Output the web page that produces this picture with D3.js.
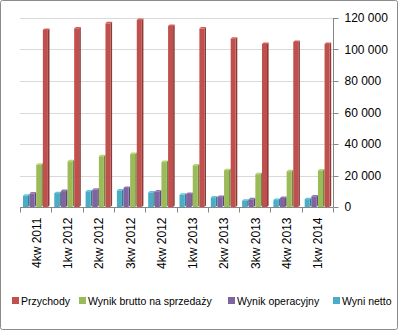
<!DOCTYPE html>
<html><head><meta charset="utf-8">
<script src="https://cdn.jsdelivr.net/npm/d3@7"></script>
<style>body{margin:0;background:#fff}svg{display:block}</style>
</head><body>
<script>
const categories = ["4kw 2011","1kw 2012","2kw 2012","3kw 2012","4kw 2012","1kw 2013","2kw 2013","3kw 2013","4kw 2013","1kw 2014"];
const przychody = [112400,113400,116600,118700,114900,113300,106900,103500,104800,103500];
const wynikBrutto = [26800,29000,32200,33600,28500,26400,23400,20800,22700,23200];
const wynikOperacyjny = [8600,10100,10900,12100,9900,8300,6300,4900,5700,6700];
const wyniNetto = [7100,8800,9900,10500,9200,7700,6100,4000,4400,5000];
const yTicks = [0,20000,40000,60000,80000,100000,120000];
const seriesNames = ["Przychody","Wynik brutto na sprzedaży","Wynik operacyjny","Wyni netto"];
const seriesColors = ["#C0504D","#9BBB59","#8064A2","#4BACC6"];
const seriesValues = [przychody, wynikBrutto, wynikOperacyjny, wyniNetto];

(function(){
const W=398,H=330;
const svg=d3.select("body").append("svg").attr("width",W).attr("height",H);
svg.append("rect").attr("x",0.5).attr("y",0.5).attr("width",W-1).attr("height",H-1)
  .attr("fill","#fff").attr("stroke","#8c8c8c").attr("rx",2);

const pLeft=20,pRight=333,pTop=18,pBottom=207;
const x=d3.scaleBand().domain(categories).range([pLeft,pRight]);
const y=d3.scaleLinear().domain([0,120000]).range([pBottom,pTop]);
const order=[3,2,1,0];
const x1=d3.scaleBand().domain(order).range([3,29.5]);

svg.append("g").selectAll("line").data(yTicks.filter(d=>d>0)).join("line")
  .attr("x1",pLeft).attr("x2",pRight).attr("y1",d=>Math.round(y(d))+0.5).attr("y2",d=>Math.round(y(d))+0.5)
  .attr("stroke","#d9d9d9").attr("stroke-width",1);

const depth=1.6, rise=1.5;
const bars=[];
categories.forEach((c,i)=>order.forEach(s=>bars.push({c,s,v:seriesValues[s][i]})));
const g=svg.append("g");
bars.forEach(b=>{
  const col=d3.color(seriesColors[b.s]);
  const x0=x(b.c)+x1(b.s);
  const w=x1.bandwidth()-depth;
  const yt=y(b.v), yb=y(0);
  g.append("path").attr("d",`M${x0+w},${yt} L${x0+w+depth},${yt-rise} L${x0+w+depth},${yb-rise} L${x0+w},${yb} Z`)
    .attr("fill",col.darker(0.9));
  g.append("path").attr("d",`M${x0},${yt} L${x0+depth},${yt-rise} L${x0+w+depth},${yt-rise} L${x0+w},${yt} Z`)
    .attr("fill",col.brighter(0.4));
  g.append("rect").attr("x",x0).attr("y",yt).attr("width",w).attr("height",yb-yt).attr("fill",seriesColors[b.s]);
});

const xa=svg.append("g").attr("transform",`translate(0,${pBottom+0.5})`);
xa.append("line").attr("x1",pLeft).attr("x2",pRight).attr("stroke","#868686");
const bounds=categories.map(c=>x(c)).concat([pRight]);
xa.selectAll(".t").data(bounds).join("line").attr("class","t")
  .attr("x1",d=>Math.round(d)+0.5).attr("x2",d=>Math.round(d)+0.5).attr("y1",0).attr("y2",5).attr("stroke","#868686");
xa.selectAll("text").data(categories).join("text")
  .attr("transform",d=>`translate(${x(d)+x.bandwidth()/2+5},10) rotate(-90)`)
  .attr("text-anchor","end").attr("font-family","Liberation Sans, Arial, sans-serif").attr("font-size",12)
  .attr("fill","#000").text(d=>d);

const ya=svg.append("g").attr("transform",`translate(${pRight+0.5},0)`);
ya.append("line").attr("y1",pTop).attr("y2",pBottom).attr("stroke","#868686");
ya.selectAll("line.t").data(yTicks).join("line").attr("class","t")
  .attr("x1",0).attr("x2",5).attr("y1",d=>Math.round(y(d))+0.5).attr("y2",d=>Math.round(y(d))+0.5).attr("stroke","#868686");
const fmt=d=>d3.format(",")(d).replace(/,/g," ");
ya.selectAll("text").data(yTicks).join("text")
  .attr("x",11).attr("y",d=>y(d)+4)
  .attr("font-family","Liberation Sans, Arial, sans-serif").attr("font-size",12).attr("fill","#000")
  .text(fmt);

const legX=[12,79,228,333];
const lg=svg.append("g").attr("transform","translate(0,301)");
seriesNames.forEach((n,i)=>{
  lg.append("rect").attr("x",legX[i]).attr("y",-4).attr("width",7).attr("height",7).attr("fill",seriesColors[i]);
  lg.append("text").attr("x",legX[i]+9).attr("y",4).attr("font-family","Liberation Sans, Arial, sans-serif")
    .attr("font-size",10.5).attr("fill","#000").text(n);
});
})();
</script>
</body></html>
